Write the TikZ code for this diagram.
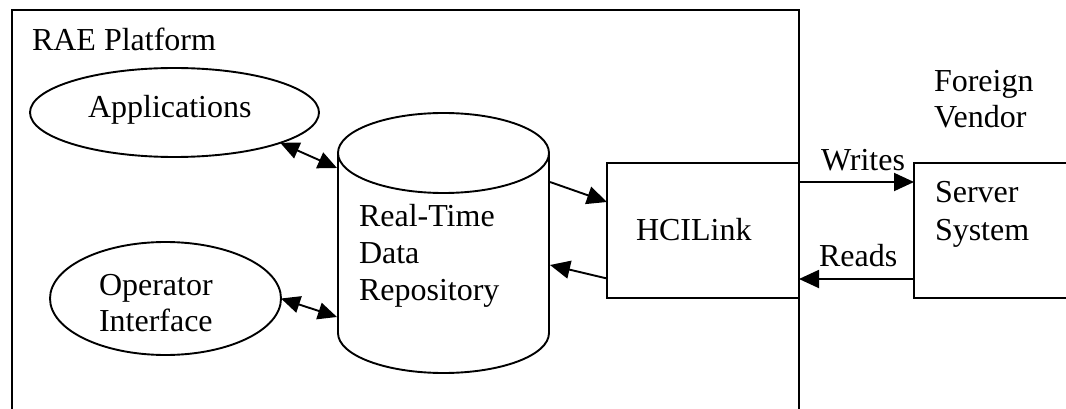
\documentclass[tikz,border=0pt]{standalone}
\usepackage{fontspec}
\setmainfont{Liberation Serif}
\usetikzlibrary{arrows.meta,shapes.geometric}
\begin{document}
\begin{tikzpicture}[x=1pt,y=-1pt,
  line width=1.9pt,
  tip/.style={-{Triangle[length=20pt,width=18pt]}},
  both/.style={{Triangle[length=19pt,width=17pt]}-{Triangle[length=19pt,width=17pt]}},
  lbl/.style={anchor=base west, inner sep=0pt, outer sep=0pt, font=\fontsize{32}{37}\selectfont},
  oval/.style={draw, ellipse, inner sep=0pt, outer sep=0pt},
  blk/.style={draw, rectangle, inner sep=0pt, outer sep=0pt}]

\useasboundingbox (0,0) rectangle (1066,409);
\clip (0,0) rectangle (1066,409);

% platform frame, open at the bottom
\draw (12,430) -- (12,10) -- (799,10) -- (799,430);
\node[lbl] (plat) at (32,51) {RAE Platform};

% client ellipses
\node[oval, minimum width=289pt, minimum height=89pt] (app) at (174.5,112.5) {};
\node[lbl] (appT) at (88,118) {Applications};

\node[oval, minimum width=231pt, minimum height=113pt] (opi) at (165.5,298.5) {};
\node[lbl] (opiT1) at (99,295) {Operator};
\node[lbl] (opiT2) at (99,331) {Interface};

% data repository cylinder
\draw (338,153) -- (338,333)
  .. controls (338,355.1) and (385.2,373) .. (443.5,373)
  .. controls (501.8,373) and (549,355.1) .. (549,333) -- (549,153);
\draw (443.5,153) ellipse [x radius=105.5, y radius=40];
\node[lbl] (dbT1) at (359,226) {Real-Time};
\node[lbl] (dbT2) at (359,263) {Data};
\node[lbl] (dbT3) at (359,300) {Repository};
\coordinate (dbA) at (337,168);
\coordinate (dbO) at (337,317);
\coordinate (dbW) at (550,182);
\coordinate (dbR) at (550,265);

% link and vendor boxes
\node[blk, minimum width=192pt, minimum height=135pt] (hci) at (703,230.5) {};
\node[lbl] (hciT) at (636,240) {HCILink};

\node[blk, minimum width=200pt, minimum height=135pt] (srv) at (1014,230.5) {};
\node[lbl] (srvT1) at (935,203) {Server};
\node[lbl] (srvT2) at (935,240) {System};

\node[lbl] (venT1) at (934,92) {Foreign};
\node[lbl] (venT2) at (934,128) {Vendor};

% connectors
\draw[both] (app.-16) -- (dbA);
\draw[both] (opi.east) -- (dbO);
\draw[tip] (dbW) -- ([yshift=28.5pt]hci.west);
\draw[tip] ([yshift=-48pt]hci.west) -- (dbR);
\draw[tip] ([yshift=48.5pt]hci.east) -- ([yshift=48.5pt]srv.west);
\draw[tip] ([yshift=-48.5pt]srv.west) -- ([yshift=-48.5pt]hci.east);
\node[lbl] (wr) at (821,171) {Writes};
\node[lbl] (rd) at (819,266) {Reads};
\end{tikzpicture}
\end{document}
